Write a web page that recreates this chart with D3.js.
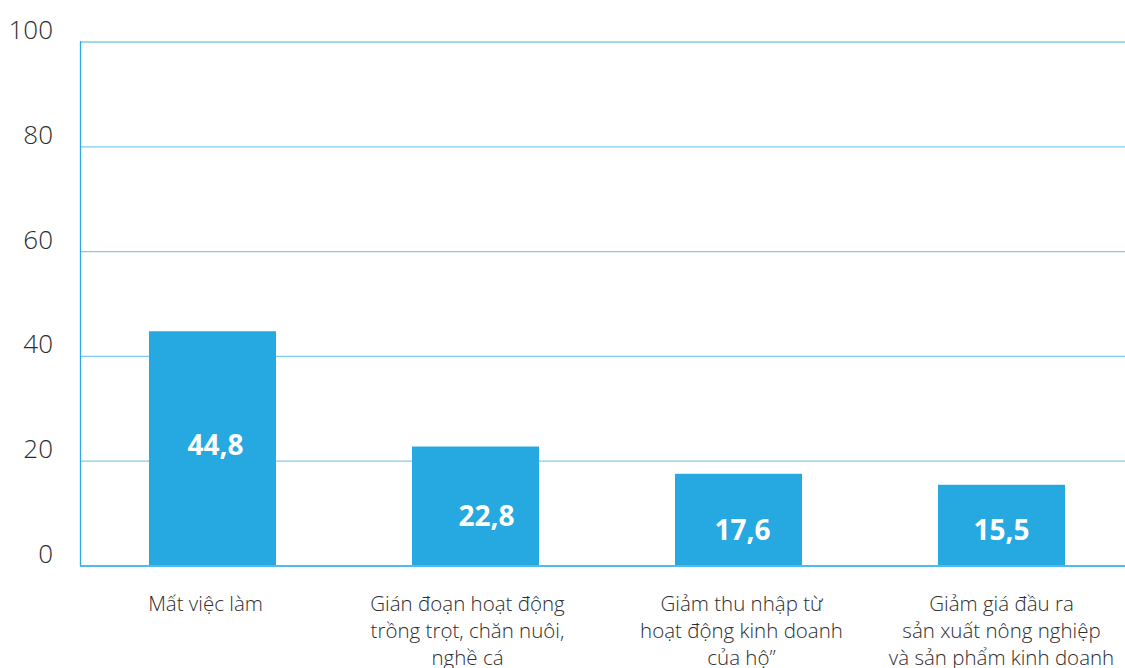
<!DOCTYPE html>
<html><head><meta charset="utf-8">
<script src="https://cdn.jsdelivr.net/npm/d3@7"></script>
<style>body{margin:0;background:#fff}svg{display:block}</style>
</head><body>
<svg id="c" width="1125" height="668"></svg>
<script>
const categories = [
  ["Mất việc làm"],
  ["Gián đoạn hoạt động", "trồng trọt, chăn nuôi,", "nghề cá"],
  ["Giảm thu nhập từ", "hoạt động kinh doanh", "của hộ”"],
  ["Giảm giá đầu ra", "sản xuất nông nghiệp", "và sản phẩm kinh doanh"]
];
const values = [44.8, 22.8, 17.6, 15.5];
const valueLabels = ["44,8", "22,8", "17,6", "15,5"];
const yTicks = [0, 20, 40, 60, 80, 100];

// layout nudges (pixels) for the in-bar and category labels
const valueLabelDx = [3, 11, 4, 0];
const valueLabelDy = [-4, 10, 10, 5];
const catLabelDx = [-7, -8, 3, 0];

const svg = d3.select("#c");
const font = "'Open Sans', 'Noto Sans', sans-serif";
const y = d3.scaleLinear().domain([0, 100]).range([566, 42]);
const x = d3.scaleBand().domain(d3.range(categories.length)).range([81, 1133])
  .paddingInner(0.517).paddingOuter(0.2585);

// gridlines
svg.append("g").selectAll("line").data(yTicks.filter(d => d > 0)).join("line")
  .attr("x1", 80).attr("x2", 1125).attr("y1", d => y(d)).attr("y2", d => y(d))
  .attr("stroke", "#7ccdef").attr("stroke-width", 1.3);

// y tick labels
svg.append("g").selectAll("text").data(yTicks).join("text")
  .attr("x", 53).attr("y", d => y(d) - 3).attr("text-anchor", "end")
  .attr("font-family", font).attr("font-weight", 300).attr("font-size", 26)
  .attr("fill", "#2e2e2e").text(d => d);

// bars
svg.append("g").selectAll("rect").data(values).join("rect")
  .attr("x", (d, i) => x(i)).attr("width", x.bandwidth())
  .attr("y", d => y(d)).attr("height", d => y(0) - y(d))
  .attr("fill", "#25a9e0");

// axis lines
svg.append("line").attr("x1", 80.5).attr("x2", 80.5).attr("y1", 41).attr("y2", 567)
  .attr("stroke", "#29abe2").attr("stroke-width", 1.3);
svg.append("line").attr("x1", 80).attr("x2", 1125).attr("y1", 566).attr("y2", 566)
  .attr("stroke", "#4fbbe8").attr("stroke-width", 2);

// value labels
svg.append("g").selectAll("text").data(values).join("text")
  .attr("x", (d, i) => x(i) + x.bandwidth() / 2 + valueLabelDx[i])
  .attr("y", (d, i) => (y(d) + y(0)) / 2 + 10 + valueLabelDy[i])
  .attr("text-anchor", "middle")
  .attr("font-family", font).attr("font-weight", 700).attr("font-size", 28)
  .attr("fill", "#fff").text((d, i) => valueLabels[i]);

// category labels
const cl = svg.append("g").selectAll("text").data(categories).join("text")
  .attr("text-anchor", "middle")
  .attr("font-family", font).attr("font-weight", 300).attr("font-size", 20.5)
  .attr("fill", "#2e2e2e");
cl.each(function(lines, i) {
  d3.select(this).selectAll("tspan").data(lines).join("tspan")
    .attr("x", x(i) + x.bandwidth() / 2 + catLabelDx[i])
    .attr("y", (d, j) => 611 + j * 27)
    .text(d => d);
});
</script>
</body></html>
